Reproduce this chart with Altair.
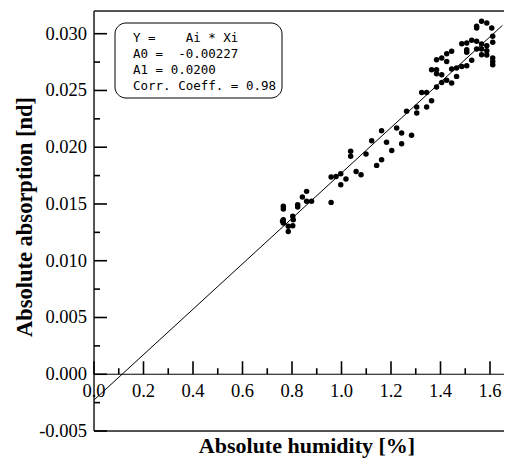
import altair as alt
import pandas as pd

# Data
hum = [0.765, 0.765, 0.765, 0.765, 0.762, 0.785, 0.785, 0.803, 0.803, 0.805,
       0.823, 0.823, 0.842, 0.859, 0.859, 0.879,
       0.958, 0.958, 0.978, 0.997, 0.997, 1.018, 1.037, 1.037, 1.059, 1.079,
       1.099, 1.122, 1.142, 1.162, 1.162, 1.182, 1.203, 1.223, 1.243, 1.243,
       1.283, 1.263, 1.304, 1.304, 1.324, 1.344, 1.344, 1.364, 1.364, 1.384,
       1.384, 1.384, 1.384, 1.405, 1.405, 1.405, 1.425, 1.425, 1.425, 1.445,
       1.445, 1.445, 1.465, 1.465, 1.486, 1.486, 1.506, 1.506, 1.506, 1.506,
       1.526, 1.526, 1.546, 1.546, 1.546, 1.546, 1.566, 1.566, 1.566, 1.566,
       1.587, 1.587, 1.587, 1.587, 1.607, 1.611, 1.611, 1.611, 1.611, 1.611]
absorb = [0.01479, 0.01455, 0.01361, 0.01332, 0.01347, 0.01303, 0.01258, 0.01308, 0.01391, 0.01361,
          0.01494, 0.01473, 0.01561, 0.01611, 0.01523, 0.01523,
          0.01514, 0.01737, 0.01743, 0.01767, 0.01670, 0.01720, 0.01964, 0.01920, 0.01787, 0.01758,
          0.01940, 0.02057, 0.01840, 0.01890, 0.02146, 0.02043, 0.01972, 0.02170, 0.02126, 0.02031,
          0.02105, 0.02316, 0.02354, 0.02301, 0.02483, 0.02483, 0.02354, 0.02410, 0.02683, 0.02683,
          0.02648, 0.02771, 0.02530, 0.02786, 0.02639, 0.02571, 0.02824, 0.02756, 0.02589, 0.02845,
          0.02689, 0.02565, 0.02624, 0.02698, 0.02712, 0.02912, 0.02918, 0.02859, 0.02836, 0.02718,
          0.02942, 0.02766, 0.02933, 0.03051, 0.03065, 0.02865, 0.03109, 0.02909, 0.02865, 0.02815,
          0.03094, 0.02894, 0.02850, 0.02812, 0.03051, 0.02978, 0.02925, 0.02786, 0.02756, 0.02727]

A0 = -0.00227
A1 = 0.0200
fit_x = [0.0, 1.65]

x_major = [0.0, 0.2, 0.4, 0.6, 0.8, 1.0, 1.2, 1.4, 1.6]
x_minor = [0.1, 0.3, 0.5, 0.7, 0.9, 1.1, 1.3, 1.5]
y_major = [-0.005, 0.0, 0.005, 0.010, 0.015, 0.020, 0.025, 0.030]
y_minor = [-0.0025, 0.0025, 0.0075, 0.0125, 0.0175, 0.0225, 0.0275]

x_title = "Absolute humidity [%]"
y_title = "Absolute absorption [nd]"

NB = "\u00a0"
box_lines = ["Y =    Ai * Xi", "A0 =  -0.00227", "A1 = 0.0200", "Corr. Coeff. = 0.98"]
box_lines = [s.replace(" ", NB) for s in box_lines]

W, H = 410, 420
x_dom = [0, W / 247.5]
y_dom = [-0.005, 0.032]
zero_px = H * (y_dom[1] - 0) / (y_dom[1] - y_dom[0])
x_per_px = (x_dom[1] - x_dom[0]) / W
y_per_px = (y_dom[1] - y_dom[0]) / H

serif = "Liberation Serif"

pts = pd.DataFrame({"hum": hum, "absn": absorb})
fit = pd.DataFrame({"fx": fit_x})
xmaj_df = pd.DataFrame({"tx": x_major})
xmin_df = pd.DataFrame({"tx": x_minor})
ymaj_df = pd.DataFrame({"ty": y_major})
ymin_df = pd.DataFrame({"ty": y_minor})
one = pd.DataFrame({"a": [0]})

xscale = alt.Scale(domain=x_dom, nice=False, zero=False)
yscale = alt.Scale(domain=y_dom, nice=False, zero=False)

points = alt.Chart(pts).mark_circle(size=30, color="black", opacity=1).encode(
    x=alt.X("hum:Q", scale=xscale, axis=None),
    y=alt.Y("absn:Q", scale=yscale, axis=None),
)

line = alt.Chart(fit).transform_calculate(
    fy=f"{A0} + {A1} * datum.fx"
).mark_line(color="black", strokeWidth=1).encode(
    x=alt.X("fx:Q", scale=xscale, axis=None),
    y=alt.Y("fy:Q", scale=yscale, axis=None),
)


def xticks(df, size):
    return alt.Chart(df).transform_calculate(
        ty0="0", ty1=f"{size * y_per_px}"
    ).mark_rule(color="black", strokeWidth=1.6).encode(
        x=alt.X("tx:Q", scale=xscale, axis=None),
        y=alt.Y("ty0:Q", scale=yscale, axis=None),
        y2="ty1:Q",
    )


def yticks(df, size):
    return alt.Chart(df).transform_calculate(
        tx0="0", tx1=f"{size * x_per_px}"
    ).mark_rule(color="black", strokeWidth=1.6).encode(
        y=alt.Y("ty:Q", scale=yscale, axis=None),
        x=alt.X("tx0:Q", scale=xscale, axis=None),
        x2="tx1:Q",
    )


x_labels = alt.Chart(xmaj_df).transform_calculate(
    lab="format(datum.tx, '.1f')", ty0="0"
).mark_text(
    font=serif, fontSize=18.5, color="black", align="center", baseline="alphabetic", dy=22.5
).encode(
    x=alt.X("tx:Q", scale=xscale, axis=None),
    y=alt.Y("ty0:Q", scale=yscale, axis=None),
    text="lab:N",
)

y_labels = alt.Chart(ymaj_df).transform_calculate(
    lab="replace(format(datum.ty, '.3f'), '\u2212', '-')", tx0="0"
).mark_text(
    font=serif, fontSize=18.5, color="black", align="right", baseline="middle", dx=-7
).encode(
    x=alt.X("tx0:Q", scale=xscale, axis=None),
    y=alt.Y("ty:Q", scale=yscale, axis=None),
    text="lab:N",
)

zero_line = alt.Chart(one).transform_calculate(zy="0").mark_rule(
    color="black", strokeWidth=1
).encode(x=alt.value(0), x2=alt.value(W), y=alt.Y("zy:Q", scale=yscale, axis=None))

left_rule = alt.Chart(one).mark_rule(color="#222", strokeWidth=1.5).encode(
    x=alt.value(0), y=alt.value(0), y2=alt.value(H)
)
top_rule = alt.Chart(one).mark_rule(color="#222", strokeWidth=1.5).encode(
    x=alt.value(0), x2=alt.value(W), y=alt.value(0)
)
bottom_rule = alt.Chart(one).mark_rule(color="#222", strokeWidth=1.5).encode(
    x=alt.value(0), x2=alt.value(W), y=alt.value(H)
)

x_title_mark = alt.Chart(one).mark_text(
    text=x_title, font=serif, fontSize=22, fontWeight="bold", color="black",
    align="center", baseline="alphabetic"
).encode(x=alt.value(213), y=alt.value(zero_px + 79))

y_title_mark = alt.Chart(one).mark_text(
    text=y_title, font=serif, fontSize=22.5, fontWeight="bold", color="black",
    align="center", baseline="middle", angle=270
).encode(x=alt.value(-69), y=alt.value(206))

box = alt.Chart(one).mark_rect(
    cornerRadius=11, fill="white", stroke="black", strokeWidth=1
).encode(x=alt.value(21), x2=alt.value(188), y=alt.value(12), y2=alt.value(87))

box_text = alt.Chart(one).mark_text(
    align="left", baseline="middle", font="DejaVu Sans Mono", fontSize=12.5,
    lineHeight=16, color="black", text=box_lines
).encode(x=alt.value(39), y=alt.value(27))

chart = alt.layer(
    line, zero_line, left_rule, top_rule, bottom_rule,
    x_labels, y_labels, x_title_mark, y_title_mark,
    points, box, box_text,
    xticks(xmaj_df, 13), xticks(xmin_df, 6), yticks(ymaj_df, 13), yticks(ymin_df, 6),
).properties(
    width=W, height=H,
    autosize=alt.AutoSizeParams(type="none"),
    padding={"left": 86, "top": 3, "right": 0, "bottom": 27},
).configure_view(stroke=None).configure(background="white")

chart.save("out.html", embed_options={"renderer": "svg", "actions": False})
